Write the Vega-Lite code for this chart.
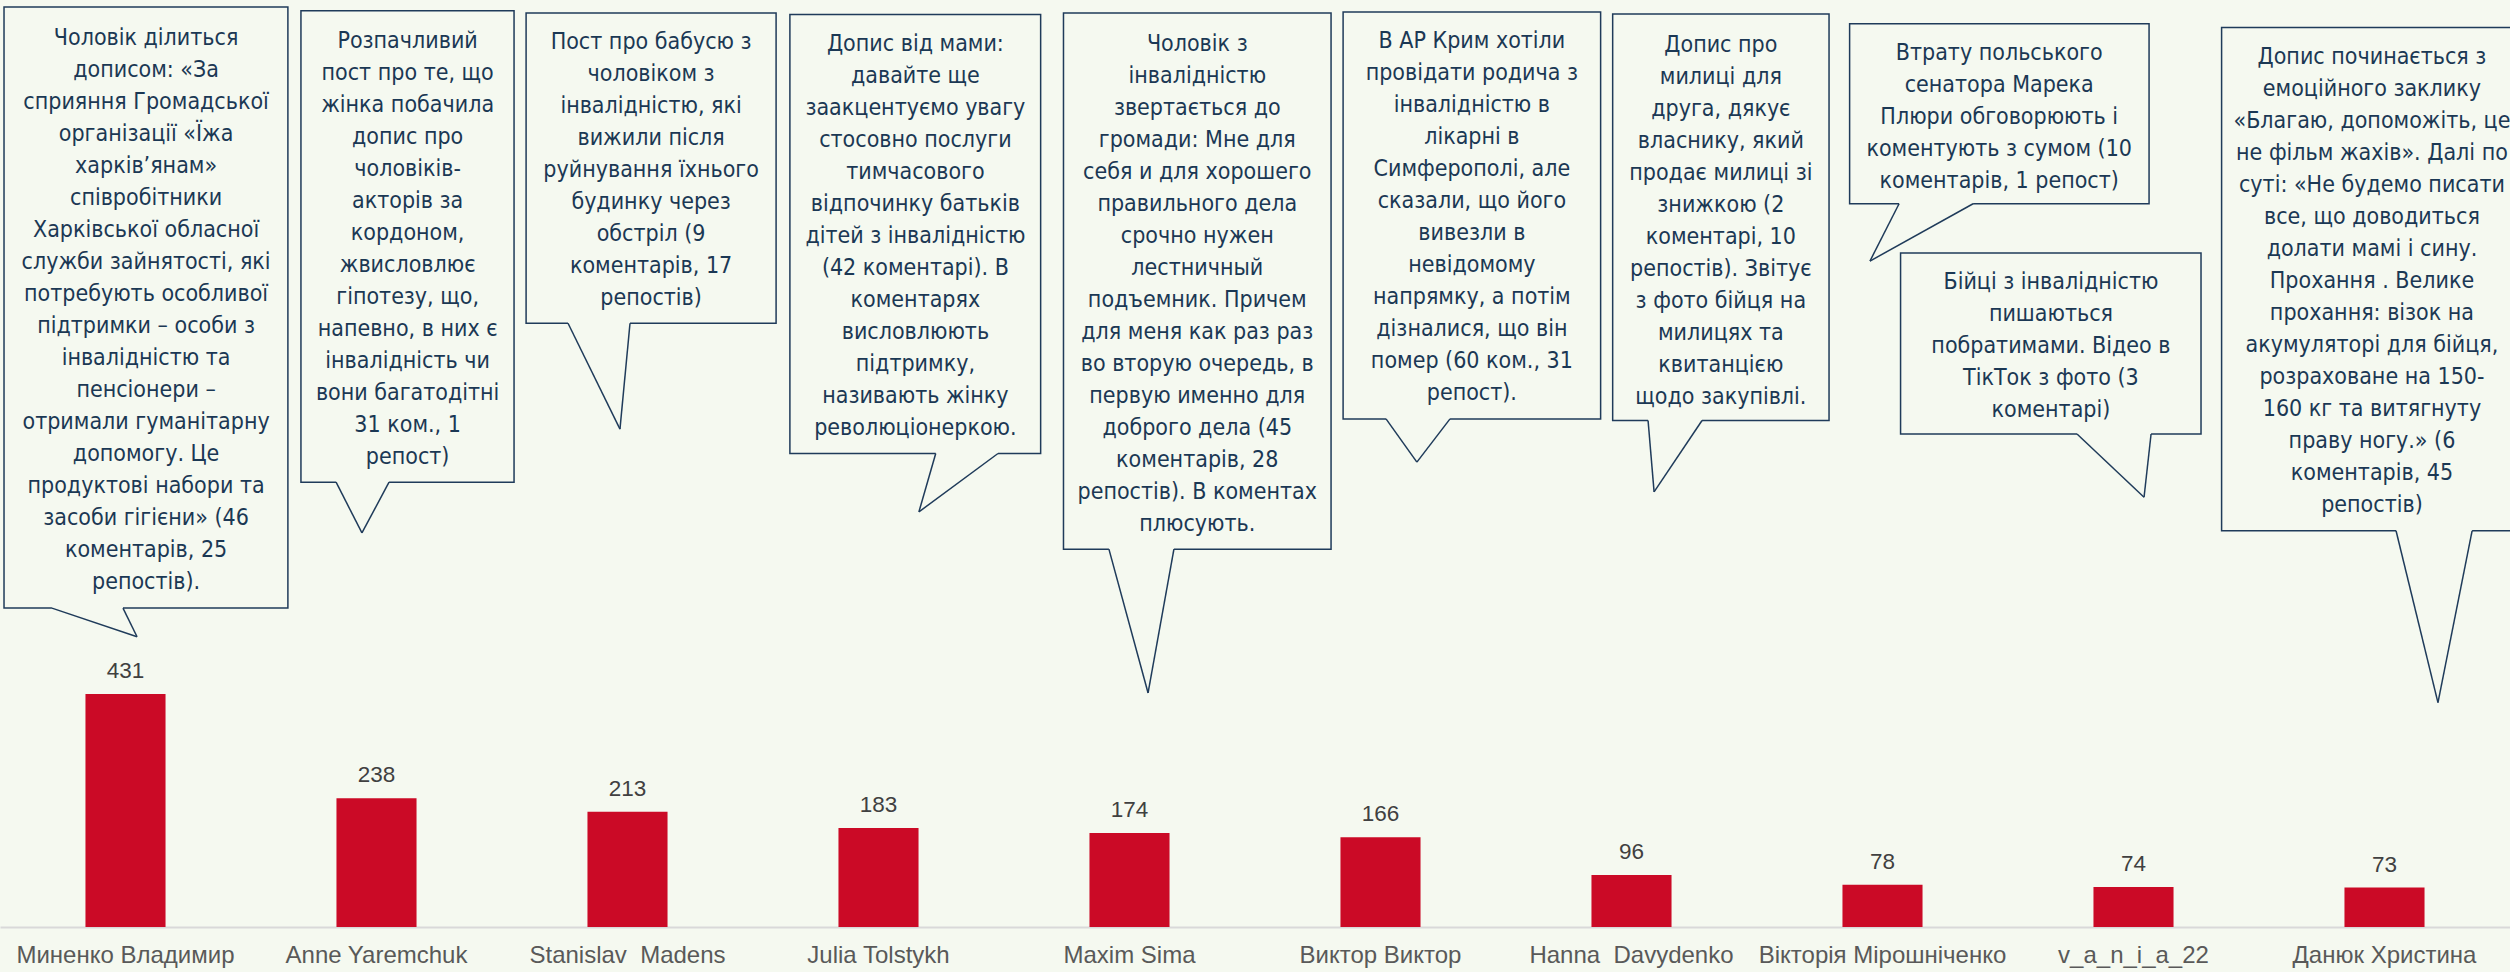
{
  "$schema": "https://vega.github.io/schema/vega-lite/v6.json",
  "width": 2510,
  "height": 927,
  "autosize": {"type": "none"},
  "padding": {"left": 0, "top": 0, "right": 0, "bottom": 45},
  "background": "#f5f9f0",
  "config": {
    "view": {"stroke": null},
    "font": "Liberation Sans",
    "axisQuantitative": {"disable": true}
  },
  "datasets": {
    "engagement": [
      {"author": "Миненко Владимир", "interactions": 431},
      {"author": "Anne Yaremchuk", "interactions": 238},
      {"author": "Stanislav\u00a0 Madens", "interactions": 213},
      {"author": "Julia Tolstykh", "interactions": 183},
      {"author": "Maxim Sima", "interactions": 174},
      {"author": "Виктор Виктор", "interactions": 166},
      {"author": "Hanna\u00a0 Davydenko", "interactions": 96},
      {"author": "Вікторія Мірошніченко", "interactions": 78},
      {"author": "v_a_n_i_a_22", "interactions": 74},
      {"author": "Данюк Христина", "interactions": 73}
    ]
  },
  "layer": [
    {
      "data": {"name": "engagement"},
      "encoding": {
        "x": {
          "field": "author",
          "type": "nominal",
          "sort": null,
          "scale": {"paddingInner": 0.681, "paddingOuter": 0.3405},
          "axis": {
            "title": null,
            "labelAngle": 0,
            "labelFontSize": 24,
            "labelColor": "#595959",
            "labelFont": "Liberation Sans",
            "labelPadding": 16,
            "ticks": false,
            "tickSize": 0,
            "domainColor": "#d9d9d9",
            "domainWidth": 2,
            "labelLimit": 0
          }
        },
        "y": {
          "field": "interactions",
          "type": "quantitative",
          "scale": {"domain": [0, 1715], "nice": false, "zero": true}
        }
      },
      "layer": [
        {"mark": {"type": "bar", "color": "#cb0a26"}},
        {
          "mark": {"type": "text", "baseline": "alphabetic", "dy": -16, "fontSize": 22.5, "color": "#404040", "font": "Liberation Sans"},
          "encoding": {"text": {"field": "interactions", "type": "quantitative"}}
        }
      ]
    },
    {
      "layer": [
        {
          "data": {"values": [{"author": "Миненко Владимир", "post": ["Чоловік ділиться", "дописом: «За", "сприяння Громадської", "організації «Їжа", "харків’янам»", "співробітники", "Харківської обласної", "служби зайнятості, які", "потребують особливої", "підтримки – особи з", "інвалідністю та", "пенсіонери –", "отримали гуманітарну", "допомогу. Це", "продуктові набори та", "засоби гігієни» (46", "коментарів, 25", "репостів)."]}]},
          "layer": [
            {"mark": {"type": "rect", "fill": "#f5f9f0", "stroke": "#1f3b5a", "strokeWidth": 1.5},
             "encoding": {"x": {"datum": 0.016, "type": "quantitative", "scale": {"domain": [0, 10], "nice": false, "zero": false}}, "x2": {"datum": 1.147}, "y": {"datum": 1702, "type": "quantitative"}, "y2": {"datum": 590}}},
            {"mark": {"type": "rule", "color": "#f5f9f0", "strokeWidth": 3},
             "encoding": {"x": {"datum": 0.207, "type": "quantitative"}, "x2": {"datum": 0.49}, "y": {"datum": 590, "type": "quantitative"}}},
            {"mark": {"type": "rule", "color": "#1f3b5a", "strokeWidth": 1.5},
             "encoding": {"x": {"datum": 0.207, "type": "quantitative"}, "y": {"datum": 590, "type": "quantitative"}, "x2": {"datum": 0.546}, "y2": {"datum": 537}}},
            {"mark": {"type": "rule", "color": "#1f3b5a", "strokeWidth": 1.5},
             "encoding": {"x": {"datum": 0.49, "type": "quantitative"}, "y": {"datum": 590, "type": "quantitative"}, "x2": {"datum": 0.546}, "y2": {"datum": 537}}},
            {"mark": {"type": "text", "font": "DejaVu Sans Condensed, DejaVu Sans, sans-serif", "fontSize": 23, "lineHeight": 32, "color": "#1b3854", "align": "center", "baseline": "middle"},
             "encoding": {"x": {"datum": 0.582, "type": "quantitative"}, "y": {"datum": 1645, "type": "quantitative"}, "text": {"field": "post"}}}
          ]
        },
        {
          "data": {"values": [{"author": "Anne Yaremchuk", "post": ["Розпачливий", "пост про те, що", "жінка побачила", "допис про", "чоловіків-", "акторів за", "кордоном,", "жвисловлює", "гіпотезу, що,", "напевно, в них є", "інвалідність чи", "вони багатодітні", "31 ком., 1", "репост)"]}]},
          "layer": [
            {"mark": {"type": "rect", "fill": "#f5f9f0", "stroke": "#1f3b5a", "strokeWidth": 1.5},
             "encoding": {"x": {"datum": 1.199, "type": "quantitative"}, "x2": {"datum": 2.048}, "y": {"datum": 1695, "type": "quantitative"}, "y2": {"datum": 823}}},
            {"mark": {"type": "rule", "color": "#f5f9f0", "strokeWidth": 3},
             "encoding": {"x": {"datum": 1.339, "type": "quantitative"}, "x2": {"datum": 1.55}, "y": {"datum": 823, "type": "quantitative"}}},
            {"mark": {"type": "rule", "color": "#1f3b5a", "strokeWidth": 1.5},
             "encoding": {"x": {"datum": 1.339, "type": "quantitative"}, "y": {"datum": 823, "type": "quantitative"}, "x2": {"datum": 1.442}, "y2": {"datum": 729}}},
            {"mark": {"type": "rule", "color": "#1f3b5a", "strokeWidth": 1.5},
             "encoding": {"x": {"datum": 1.55, "type": "quantitative"}, "y": {"datum": 823, "type": "quantitative"}, "x2": {"datum": 1.442}, "y2": {"datum": 729}}},
            {"mark": {"type": "text", "font": "DejaVu Sans Condensed, DejaVu Sans, sans-serif", "fontSize": 23, "lineHeight": 32, "color": "#1b3854", "align": "center", "baseline": "middle"},
             "encoding": {"x": {"datum": 1.624, "type": "quantitative"}, "y": {"datum": 1639, "type": "quantitative"}, "text": {"field": "post"}}}
          ]
        },
        {
          "data": {"values": [{"author": "Stanislav  Madens", "post": ["Пост про бабусю з", "чоловіком з", "інвалідністю, які", "вижили після", "руйнування їхнього", "будинку через", "обстріл (9", "коментарів, 17", "репостів)"]}]},
          "layer": [
            {"mark": {"type": "rect", "fill": "#f5f9f0", "stroke": "#1f3b5a", "strokeWidth": 1.5},
             "encoding": {"x": {"datum": 2.096, "type": "quantitative"}, "x2": {"datum": 3.092}, "y": {"datum": 1691, "type": "quantitative"}, "y2": {"datum": 1117}}},
            {"mark": {"type": "rule", "color": "#f5f9f0", "strokeWidth": 3},
             "encoding": {"x": {"datum": 2.263, "type": "quantitative"}, "x2": {"datum": 2.51}, "y": {"datum": 1117, "type": "quantitative"}}},
            {"mark": {"type": "rule", "color": "#1f3b5a", "strokeWidth": 1.5},
             "encoding": {"x": {"datum": 2.263, "type": "quantitative"}, "y": {"datum": 1117, "type": "quantitative"}, "x2": {"datum": 2.47}, "y2": {"datum": 921}}},
            {"mark": {"type": "rule", "color": "#1f3b5a", "strokeWidth": 1.5},
             "encoding": {"x": {"datum": 2.51, "type": "quantitative"}, "y": {"datum": 1117, "type": "quantitative"}, "x2": {"datum": 2.47}, "y2": {"datum": 921}}},
            {"mark": {"type": "text", "font": "DejaVu Sans Condensed, DejaVu Sans, sans-serif", "fontSize": 23, "lineHeight": 32, "color": "#1b3854", "align": "center", "baseline": "middle"},
             "encoding": {"x": {"datum": 2.594, "type": "quantitative"}, "y": {"datum": 1638, "type": "quantitative"}, "text": {"field": "post"}}}
          ]
        },
        {
          "data": {"values": [{"author": "Julia Tolstykh", "post": ["Допис від мами:", "давайте ще", "заакцентуємо увагу", "стосовно послуги", "тимчасового", "відпочинку батьків", "дітей з інвалідністю", "(42 коментарі). В", "коментарях", "висловлюють", "підтримку,", "називають жінку", "революціонеркою."]}]},
          "layer": [
            {"mark": {"type": "rect", "fill": "#f5f9f0", "stroke": "#1f3b5a", "strokeWidth": 1.5},
             "encoding": {"x": {"datum": 3.147, "type": "quantitative"}, "x2": {"datum": 4.146}, "y": {"datum": 1688, "type": "quantitative"}, "y2": {"datum": 876}}},
            {"mark": {"type": "rule", "color": "#f5f9f0", "strokeWidth": 3},
             "encoding": {"x": {"datum": 3.728, "type": "quantitative"}, "x2": {"datum": 3.976}, "y": {"datum": 876, "type": "quantitative"}}},
            {"mark": {"type": "rule", "color": "#1f3b5a", "strokeWidth": 1.5},
             "encoding": {"x": {"datum": 3.728, "type": "quantitative"}, "y": {"datum": 876, "type": "quantitative"}, "x2": {"datum": 3.661}, "y2": {"datum": 768}}},
            {"mark": {"type": "rule", "color": "#1f3b5a", "strokeWidth": 1.5},
             "encoding": {"x": {"datum": 3.976, "type": "quantitative"}, "y": {"datum": 876, "type": "quantitative"}, "x2": {"datum": 3.661}, "y2": {"datum": 768}}},
            {"mark": {"type": "text", "font": "DejaVu Sans Condensed, DejaVu Sans, sans-serif", "fontSize": 23, "lineHeight": 32, "color": "#1b3854", "align": "center", "baseline": "middle"},
             "encoding": {"x": {"datum": 3.647, "type": "quantitative"}, "y": {"datum": 1634, "type": "quantitative"}, "text": {"field": "post"}}}
          ]
        },
        {
          "data": {"values": [{"author": "Maxim Sima", "post": ["Чоловік з", "інвалідністю", "звертається до", "громади: Мне для", "себя и для хорошего", "правильного дела", "срочно нужен", "лестничный", "подъемник. Причем", "для меня как раз раз", "во вторую очередь, в", "первую именно для", "доброго дела (45", "коментарів, 28", "репостів). В коментах", "плюсують."]}]},
          "layer": [
            {"mark": {"type": "rect", "fill": "#f5f9f0", "stroke": "#1f3b5a", "strokeWidth": 1.5},
             "encoding": {"x": {"datum": 4.237, "type": "quantitative"}, "x2": {"datum": 5.303}, "y": {"datum": 1691, "type": "quantitative"}, "y2": {"datum": 699}}},
            {"mark": {"type": "rule", "color": "#f5f9f0", "strokeWidth": 3},
             "encoding": {"x": {"datum": 4.418, "type": "quantitative"}, "x2": {"datum": 4.677}, "y": {"datum": 699, "type": "quantitative"}}},
            {"mark": {"type": "rule", "color": "#1f3b5a", "strokeWidth": 1.5},
             "encoding": {"x": {"datum": 4.418, "type": "quantitative"}, "y": {"datum": 699, "type": "quantitative"}, "x2": {"datum": 4.574}, "y2": {"datum": 433}}},
            {"mark": {"type": "rule", "color": "#1f3b5a", "strokeWidth": 1.5},
             "encoding": {"x": {"datum": 4.677, "type": "quantitative"}, "y": {"datum": 699, "type": "quantitative"}, "x2": {"datum": 4.574}, "y2": {"datum": 433}}},
            {"mark": {"type": "text", "font": "DejaVu Sans Condensed, DejaVu Sans, sans-serif", "fontSize": 23, "lineHeight": 32, "color": "#1b3854", "align": "center", "baseline": "middle"},
             "encoding": {"x": {"datum": 4.77, "type": "quantitative"}, "y": {"datum": 1634, "type": "quantitative"}, "text": {"field": "post"}}}
          ]
        },
        {
          "data": {"values": [{"author": "Виктор Виктор", "post": ["В АР Крим хотіли", "провідати родича з", "інвалідністю в", "лікарні в", "Симферополі, але", "сказали, що його", "вивезли в", "невідомому", "напрямку, а потім", "дізналися, що він", "помер (60 ком., 31", "репост)."]}]},
          "layer": [
            {"mark": {"type": "rect", "fill": "#f5f9f0", "stroke": "#1f3b5a", "strokeWidth": 1.5},
             "encoding": {"x": {"datum": 5.351, "type": "quantitative"}, "x2": {"datum": 6.377}, "y": {"datum": 1693, "type": "quantitative"}, "y2": {"datum": 940}}},
            {"mark": {"type": "rule", "color": "#f5f9f0", "strokeWidth": 3},
             "encoding": {"x": {"datum": 5.522, "type": "quantitative"}, "x2": {"datum": 5.777}, "y": {"datum": 940, "type": "quantitative"}}},
            {"mark": {"type": "rule", "color": "#1f3b5a", "strokeWidth": 1.5},
             "encoding": {"x": {"datum": 5.522, "type": "quantitative"}, "y": {"datum": 940, "type": "quantitative"}, "x2": {"datum": 5.645}, "y2": {"datum": 860}}},
            {"mark": {"type": "rule", "color": "#1f3b5a", "strokeWidth": 1.5},
             "encoding": {"x": {"datum": 5.777, "type": "quantitative"}, "y": {"datum": 940, "type": "quantitative"}, "x2": {"datum": 5.645}, "y2": {"datum": 860}}},
            {"mark": {"type": "text", "font": "DejaVu Sans Condensed, DejaVu Sans, sans-serif", "fontSize": 23, "lineHeight": 32, "color": "#1b3854", "align": "center", "baseline": "middle"},
             "encoding": {"x": {"datum": 5.864, "type": "quantitative"}, "y": {"datum": 1640, "type": "quantitative"}, "text": {"field": "post"}}}
          ]
        },
        {
          "data": {"values": [{"author": "Hanna  Davydenko", "post": ["Допис про", "милиці для", "друга, дякує", "власнику, який", "продає милиці зі", "знижкою (2", "коментарі, 10", "репостів). Звітує", "з фото бійця на", "милицях та", "квитанцією", "щодо закупівлі."]}]},
          "layer": [
            {"mark": {"type": "rect", "fill": "#f5f9f0", "stroke": "#1f3b5a", "strokeWidth": 1.5},
             "encoding": {"x": {"datum": 6.425, "type": "quantitative"}, "x2": {"datum": 7.287}, "y": {"datum": 1689, "type": "quantitative"}, "y2": {"datum": 937}}},
            {"mark": {"type": "rule", "color": "#f5f9f0", "strokeWidth": 3},
             "encoding": {"x": {"datum": 6.566, "type": "quantitative"}, "x2": {"datum": 6.781}, "y": {"datum": 937, "type": "quantitative"}}},
            {"mark": {"type": "rule", "color": "#1f3b5a", "strokeWidth": 1.5},
             "encoding": {"x": {"datum": 6.566, "type": "quantitative"}, "y": {"datum": 937, "type": "quantitative"}, "x2": {"datum": 6.59}, "y2": {"datum": 805}}},
            {"mark": {"type": "rule", "color": "#1f3b5a", "strokeWidth": 1.5},
             "encoding": {"x": {"datum": 6.781, "type": "quantitative"}, "y": {"datum": 937, "type": "quantitative"}, "x2": {"datum": 6.59}, "y2": {"datum": 805}}},
            {"mark": {"type": "text", "font": "DejaVu Sans Condensed, DejaVu Sans, sans-serif", "fontSize": 23, "lineHeight": 32, "color": "#1b3854", "align": "center", "baseline": "middle"},
             "encoding": {"x": {"datum": 6.856, "type": "quantitative"}, "y": {"datum": 1632, "type": "quantitative"}, "text": {"field": "post"}}}
          ]
        },
        {
          "data": {"values": [{"author": "Вікторія Мірошніченко", "post": ["Втрату польського", "сенатора Марека", "Плюри обговорюють і", "коментують з сумом (10", "коментарів, 1 репост)"]}]},
          "layer": [
            {"mark": {"type": "rect", "fill": "#f5f9f0", "stroke": "#1f3b5a", "strokeWidth": 1.5},
             "encoding": {"x": {"datum": 7.369, "type": "quantitative"}, "x2": {"datum": 8.562}, "y": {"datum": 1671, "type": "quantitative"}, "y2": {"datum": 1338}}},
            {"mark": {"type": "rule", "color": "#f5f9f0", "strokeWidth": 3},
             "encoding": {"x": {"datum": 7.566, "type": "quantitative"}, "x2": {"datum": 7.861}, "y": {"datum": 1338, "type": "quantitative"}}},
            {"mark": {"type": "rule", "color": "#1f3b5a", "strokeWidth": 1.5},
             "encoding": {"x": {"datum": 7.566, "type": "quantitative"}, "y": {"datum": 1338, "type": "quantitative"}, "x2": {"datum": 7.45}, "y2": {"datum": 1232}}},
            {"mark": {"type": "rule", "color": "#1f3b5a", "strokeWidth": 1.5},
             "encoding": {"x": {"datum": 7.861, "type": "quantitative"}, "y": {"datum": 1338, "type": "quantitative"}, "x2": {"datum": 7.45}, "y2": {"datum": 1232}}},
            {"mark": {"type": "text", "font": "DejaVu Sans Condensed, DejaVu Sans, sans-serif", "fontSize": 23, "lineHeight": 32, "color": "#1b3854", "align": "center", "baseline": "middle"},
             "encoding": {"x": {"datum": 7.965, "type": "quantitative"}, "y": {"datum": 1617, "type": "quantitative"}, "text": {"field": "post"}}}
          ]
        },
        {
          "data": {"values": [{"author": "v_a_n_i_a_22", "post": ["Бійці з інвалідністю", "пишаються", "побратимами. Відео в", "ТікТок з фото (3", "коментарі)"]}]},
          "layer": [
            {"mark": {"type": "rect", "fill": "#f5f9f0", "stroke": "#1f3b5a", "strokeWidth": 1.5},
             "encoding": {"x": {"datum": 7.572, "type": "quantitative"}, "x2": {"datum": 8.769}, "y": {"datum": 1247, "type": "quantitative"}, "y2": {"datum": 912}}},
            {"mark": {"type": "rule", "color": "#f5f9f0", "strokeWidth": 3},
             "encoding": {"x": {"datum": 8.275, "type": "quantitative"}, "x2": {"datum": 8.57}, "y": {"datum": 912, "type": "quantitative"}}},
            {"mark": {"type": "rule", "color": "#1f3b5a", "strokeWidth": 1.5},
             "encoding": {"x": {"datum": 8.275, "type": "quantitative"}, "y": {"datum": 912, "type": "quantitative"}, "x2": {"datum": 8.542}, "y2": {"datum": 795}}},
            {"mark": {"type": "rule", "color": "#1f3b5a", "strokeWidth": 1.5},
             "encoding": {"x": {"datum": 8.57, "type": "quantitative"}, "y": {"datum": 912, "type": "quantitative"}, "x2": {"datum": 8.542}, "y2": {"datum": 795}}},
            {"mark": {"type": "text", "font": "DejaVu Sans Condensed, DejaVu Sans, sans-serif", "fontSize": 23, "lineHeight": 32, "color": "#1b3854", "align": "center", "baseline": "middle"},
             "encoding": {"x": {"datum": 8.171, "type": "quantitative"}, "y": {"datum": 1193, "type": "quantitative"}, "text": {"field": "post"}}}
          ]
        },
        {
          "data": {"values": [{"author": "Данюк Христина", "post": ["Допис починається з", "емоційного заклику", "«Благаю, допоможіть, це", "не фільм жахів». Далі по", "суті: «Не будемо писати", "все, що доводиться", "долати мамі і сину.", "Прохання . Велике", "прохання: візок на", "акумуляторі для бійця,", "розраховане на 150-", "160 кг та витягнуту", "праву ногу.» (6", "коментарів, 45", "репостів)"]}]},
          "layer": [
            {"mark": {"type": "rect", "fill": "#f5f9f0", "stroke": "#1f3b5a", "strokeWidth": 1.5},
             "encoding": {"x": {"datum": 8.851, "type": "quantitative"}, "x2": {"datum": 10.05}, "y": {"datum": 1664, "type": "quantitative"}, "y2": {"datum": 733}}},
            {"mark": {"type": "rule", "color": "#f5f9f0", "strokeWidth": 3},
             "encoding": {"x": {"datum": 9.546, "type": "quantitative"}, "x2": {"datum": 9.849}, "y": {"datum": 733, "type": "quantitative"}}},
            {"mark": {"type": "rule", "color": "#1f3b5a", "strokeWidth": 1.5},
             "encoding": {"x": {"datum": 9.546, "type": "quantitative"}, "y": {"datum": 733, "type": "quantitative"}, "x2": {"datum": 9.713}, "y2": {"datum": 415}}},
            {"mark": {"type": "rule", "color": "#1f3b5a", "strokeWidth": 1.5},
             "encoding": {"x": {"datum": 9.849, "type": "quantitative"}, "y": {"datum": 733, "type": "quantitative"}, "x2": {"datum": 9.713}, "y2": {"datum": 415}}},
            {"mark": {"type": "text", "font": "DejaVu Sans Condensed, DejaVu Sans, sans-serif", "fontSize": 23, "lineHeight": 32, "color": "#1b3854", "align": "center", "baseline": "middle"},
             "encoding": {"x": {"datum": 9.45, "type": "quantitative"}, "y": {"datum": 1610, "type": "quantitative"}, "text": {"field": "post"}}}
          ]
        }
      ]
    }
  ],
  "resolve": {"scale": {"x": "independent"}}
}
